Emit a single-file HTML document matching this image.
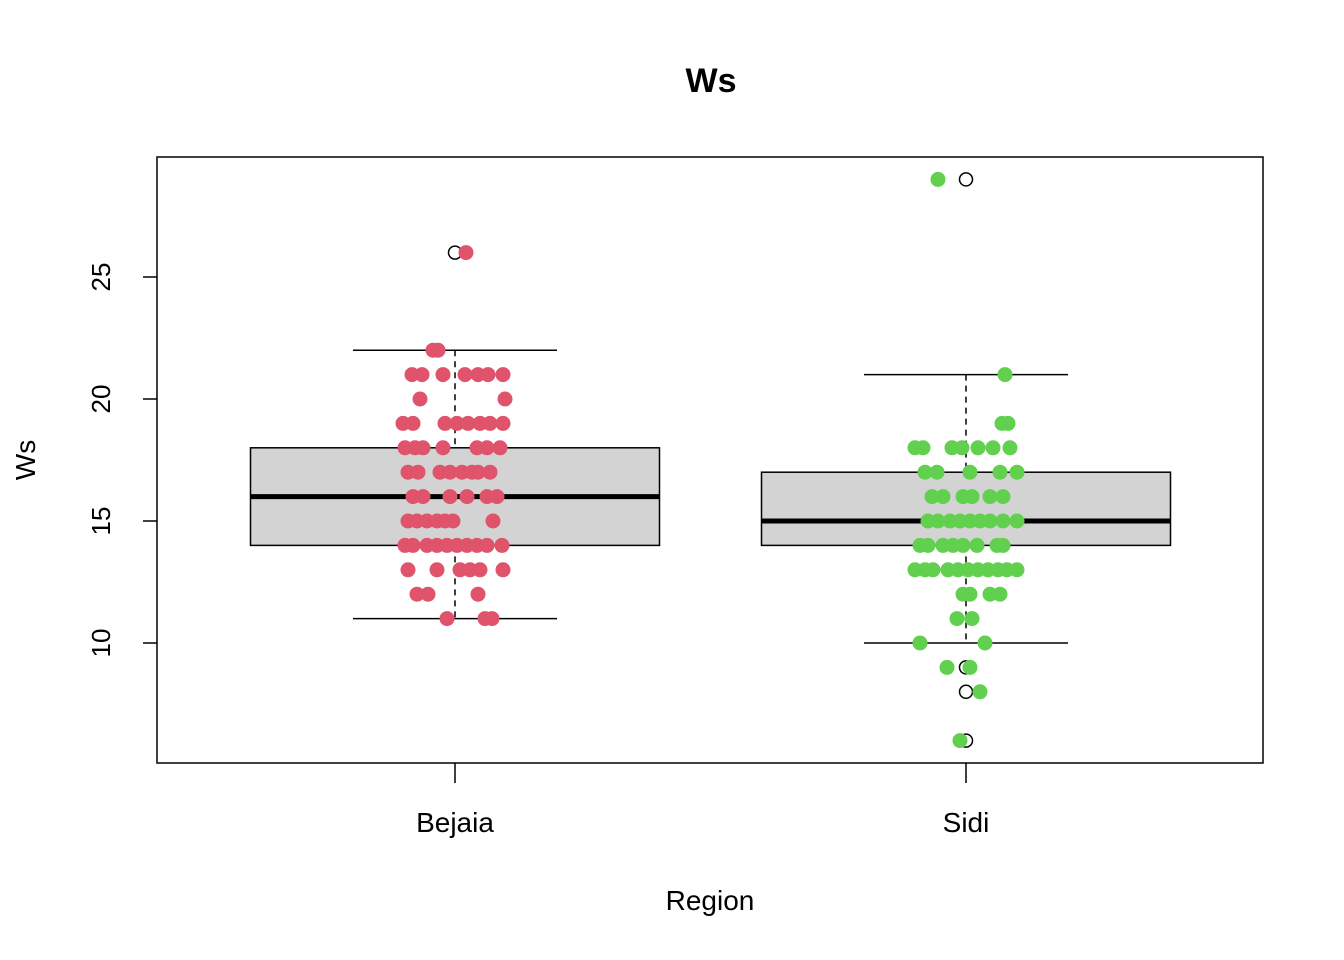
<!DOCTYPE html>
<html><head><meta charset="utf-8"><style>body{margin:0;background:#fff}svg{display:block;font-family:"Liberation Sans",Arial,sans-serif}</style></head>
<body>
<svg id="chart" width="1344" height="960" viewBox="0 0 1344 960" xmlns="http://www.w3.org/2000/svg">
<rect width="1344" height="960" fill="#fff"/>
<text x="711" y="92" font-size="34" font-weight="bold" text-anchor="middle">Ws</text>
<text x="710" y="910" font-size="28" text-anchor="middle">Region</text>
<text transform="translate(35,460) rotate(-90)" font-size="28" text-anchor="middle">Ws</text>
<g id="plot"></g>
<rect x="157" y="157" width="1106" height="606" fill="none" stroke="#000" stroke-width="1.5"/>
</svg>
<script>
const categories = ["Bejaia","Sidi"];
const colors = ["#DF536B","#61D04F"];
const q1 = [14,14], med = [16,15], q3 = [18,17], whLo = [11,10], whHi = [22,21];
const outliers = [[26],[29,9,8,6]];
const yTicks = [10,15,20,25];
// jittered points: values and jitter offsets (jitter in 1/511 of category spacing)
const bejVals = [26,22,22,21,21,21,21,21,21,21,20,20,19,19,19,19,19,19,19,19,18,18,18,18,18,18,18,17,17,17,17,17,17,17,17,16,16,16,16,16,16,15,15,15,15,15,15,15,14,14,14,14,14,14,14,14,14,14,13,13,13,13,13,13,12,12,12,11,11,11];
const bejJit = [11,-22,-17,-43,-33,-12,10,23,33,48,-35,50,-52,-42,-10,2,13,25,35,48,-50,-40,-32,-12,22,32,45,-47,-37,-15,-5,7,17,23,35,-42,-32,-5,12,32,42,-47,-38,-28,-18,-10,-2,38,-50,-42,-28,-18,-8,2,12,22,32,47,-47,-18,5,15,25,48,-38,-27,23,-8,30,37];
const sidVals = [29,21,19,19,18,18,18,18,18,18,18,17,17,17,17,17,16,16,16,16,16,16,15,15,15,15,15,15,15,15,15,14,14,14,14,14,14,14,14,13,13,13,13,13,13,13,13,13,13,13,12,12,12,12,11,11,10,10,9,9,8,6];
const sidJit = [-28,39,36,42,-51,-43,-14,-4,12,27,44,-41,-29,4,34,51,-34,-23,-3,6,24,37,-38,-28,-16,-6,4,14,24,37,51,-46,-38,-23,-13,-3,11,31,37,-51,-41,-33,-18,-8,2,12,22,32,41,51,-3,4,24,34,-9,6,-46,19,-19,4,14,-6];
const values = [bejVals, sidVals], jitters = [bejJit, sidJit];

const x = c => 455 + c*511;
const y = v => 643 - (v-10)*24.4;
const NS = "http://www.w3.org/2000/svg";
const g = document.getElementById("plot");
function mk(tag, attrs, parent){const e=document.createElementNS(NS,tag);for(const k in attrs)e.setAttribute(k,attrs[k]);(parent||g).appendChild(e);return e;}

yTicks.forEach(t=>{
  const tk=mk("line",{x1:143,x2:157,y1:y(t),y2:y(t),stroke:"#000","stroke-width":1.5});
  
  
  const lb=mk("text",{transform:`translate(110,${y(t)}) rotate(-90)`,"font-size":26,"text-anchor":"middle"});
  lb.textContent=t;
  
  
});
categories.forEach((c,i)=>{
  const cx=x(i);
  const tk=mk("line",{x1:cx,x2:cx,y1:763,y2:783,stroke:"#000","stroke-width":1.5});
  
  
  const lb=mk("text",{x:cx,y:832,"font-size":28,"text-anchor":"middle"});
  lb.textContent=c;
  
  
  const box=mk("g",{});
  
  
  mk("line",{x1:cx,x2:cx,y1:y(whHi[i]),y2:y(q3[i]),stroke:"#000","stroke-width":1.5,"stroke-dasharray":"6,5"},box);
  mk("line",{x1:cx,x2:cx,y1:y(q1[i]),y2:y(whLo[i]),stroke:"#000","stroke-width":1.5,"stroke-dasharray":"6,5"},box);
  mk("line",{x1:cx-102,x2:cx+102,y1:y(whHi[i]),y2:y(whHi[i]),stroke:"#000","stroke-width":1.5},box);
  mk("line",{x1:cx-102,x2:cx+102,y1:y(whLo[i]),y2:y(whLo[i]),stroke:"#000","stroke-width":1.5},box);
  mk("rect",{x:cx-204.5,y:y(q3[i]),width:409,height:y(q1[i])-y(q3[i]),fill:"#d3d3d3",stroke:"#000","stroke-width":1.5},box);
  mk("line",{x1:cx-204.5,x2:cx+204.5,y1:y(med[i]),y2:y(med[i]),stroke:"#000","stroke-width":5},box);
  outliers[i].forEach(o=>{
    const oc=mk("circle",{cx:cx,cy:y(o),r:6.5,fill:"none",stroke:"#000","stroke-width":1.5});
    
    
  });
});
categories.forEach((c,i)=>{
  values[i].forEach((v,k)=>{
    const p=mk("circle",{cx:x(i+jitters[i][k]/511),cy:y(v),r:7.5,fill:colors[i]});
    
    
  });
});
</script>
</body></html>
